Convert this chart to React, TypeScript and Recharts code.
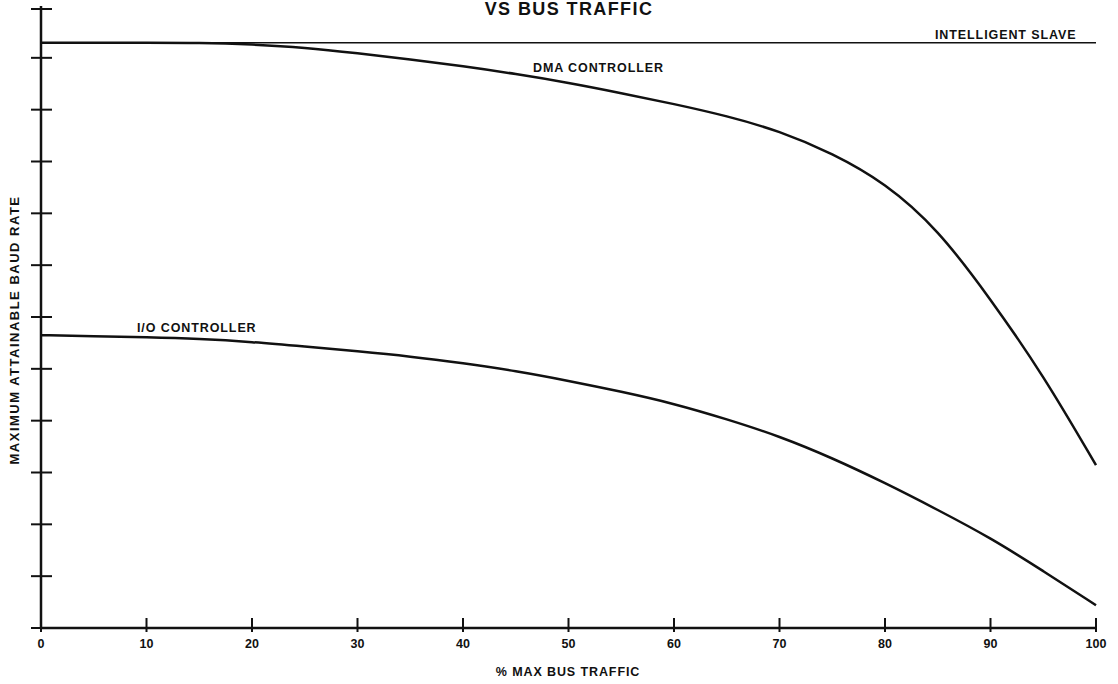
import React from "react";
import { LineChart, Line, XAxis, YAxis } from "recharts";

// % max bus traffic (x), read every 5%
const traffic = [0, 5, 10, 15, 20, 25, 30, 35, 40, 45, 50, 55, 60, 65, 70, 75, 80, 85, 90, 95, 100];

// maximum attainable baud rate (unlabelled scale, one unit per tick)
const intelligentSlave = [
  11.29, 11.29, 11.29, 11.29, 11.29, 11.29, 11.29, 11.29, 11.29, 11.29, 11.29,
  11.29, 11.29, 11.29, 11.29, 11.29, 11.29, 11.29, 11.29, 11.29, 11.29,
];
const dmaController = [
  11.29, 11.29, 11.29, 11.29, 11.26, 11.2, 11.09, 10.97, 10.84, 10.69, 10.52,
  10.32, 10.11, 9.88, 9.59, 9.16, 8.59, 7.7, 6.35, 4.88, 3.14,
];
const ioController = [
  5.65, 5.63, 5.61, 5.58, 5.52, 5.43, 5.34, 5.24, 5.11, 4.96, 4.77, 4.56, 4.33,
  4.03, 3.7, 3.28, 2.8, 2.28, 1.74, 1.1, 0.44,
];

const xTicks = [0, 10, 20, 30, 40, 50, 60, 70, 80, 90, 100];
const yTicks = [0, 1, 2, 3, 4, 5, 6, 7, 8, 9, 10, 11, 12];

const data = traffic.map((t, i) => ({
  traffic: t,
  slave: intelligentSlave[i],
  dma: dmaController[i],
  io: ioController[i],
}));

const INK = "#111";
const FONT = "'Liberation Sans', Arial, Helvetica, sans-serif";

const XTick = ({ x, y, payload }: any) => (
  <g>
    <line x1={x} x2={x} y1={y - 10} y2={y + 4} stroke={INK} strokeWidth={2} />
    <text
      x={x}
      y={y + 20}
      textAnchor="middle"
      fontFamily={FONT}
      fontWeight="bold"
      fontSize={12.5}
      fill={INK}
    >
      {payload.value}
    </text>
  </g>
);

const YTick = ({ x, y }: any) => (
  <line x1={x - 10} x2={x + 11} y1={y} y2={y} stroke={INK} strokeWidth={2} />
);

const labelStyle = {
  fontFamily: FONT,
  fontWeight: "bold" as const,
  fontSize: 12.5,
  letterSpacing: 0.9,
  fill: INK,
};

export default function App() {
  return (
    <div
      style={{
        position: "absolute",
        left: 0,
        top: 0,
        width: 1118,
        height: 684,
        background: "#fff",
      }}
    >
      <LineChart
        width={1118}
        height={684}
        data={data}
        margin={{ top: 6, right: 22, left: 31, bottom: 26 }}
      >
        <XAxis
          type="number"
          dataKey="traffic"
          domain={[0, 100]}
          ticks={xTicks}
          height={30}
          tickSize={0}
          tickMargin={0}
          tickLine={false}
          tick={<XTick />}
          axisLine={{ stroke: INK, strokeWidth: 2.5 }}
        />
        <YAxis
          type="number"
          domain={[0, 12]}
          ticks={yTicks}
          width={10}
          tickSize={0}
          tickMargin={0}
          tickLine={false}
          tick={<YTick />}
          axisLine={{ stroke: INK, strokeWidth: 2.5 }}
        />
        <Line
          type="linear"
          dataKey="slave"
          stroke={INK}
          strokeWidth={1.5}
          dot={false}
          isAnimationActive={false}
        />
        <Line
          type="basis"
          dataKey="dma"
          stroke={INK}
          strokeWidth={2.5}
          dot={false}
          isAnimationActive={false}
        />
        <Line
          type="basis"
          dataKey="io"
          stroke={INK}
          strokeWidth={2.5}
          dot={false}
          isAnimationActive={false}
        />

        <text
          x={569}
          y={15}
          textAnchor="middle"
          fontFamily={FONT}
          fontWeight="bold"
          fontSize={18}
          letterSpacing={1.4}
          fill={INK}
        >
          VS BUS TRAFFIC
        </text>
        <text x={935} y={39} {...labelStyle}>
          INTELLIGENT SLAVE
        </text>
        <text x={533} y={72} {...labelStyle}>
          DMA CONTROLLER
        </text>
        <text x={137} y={332} {...labelStyle}>
          I/O CONTROLLER
        </text>
        <text x={568} y={676} textAnchor="middle" {...labelStyle}>
          % MAX BUS TRAFFIC
        </text>
        <text
          x={19}
          y={330}
          textAnchor="middle"
          transform="rotate(-90 19 330)"
          fontFamily={FONT}
          fontWeight="bold"
          fontSize={13}
          fill={INK}
          letterSpacing={1.5}
        >
          MAXIMUM ATTAINABLE BAUD RATE
        </text>
      </LineChart>
    </div>
  );
}
